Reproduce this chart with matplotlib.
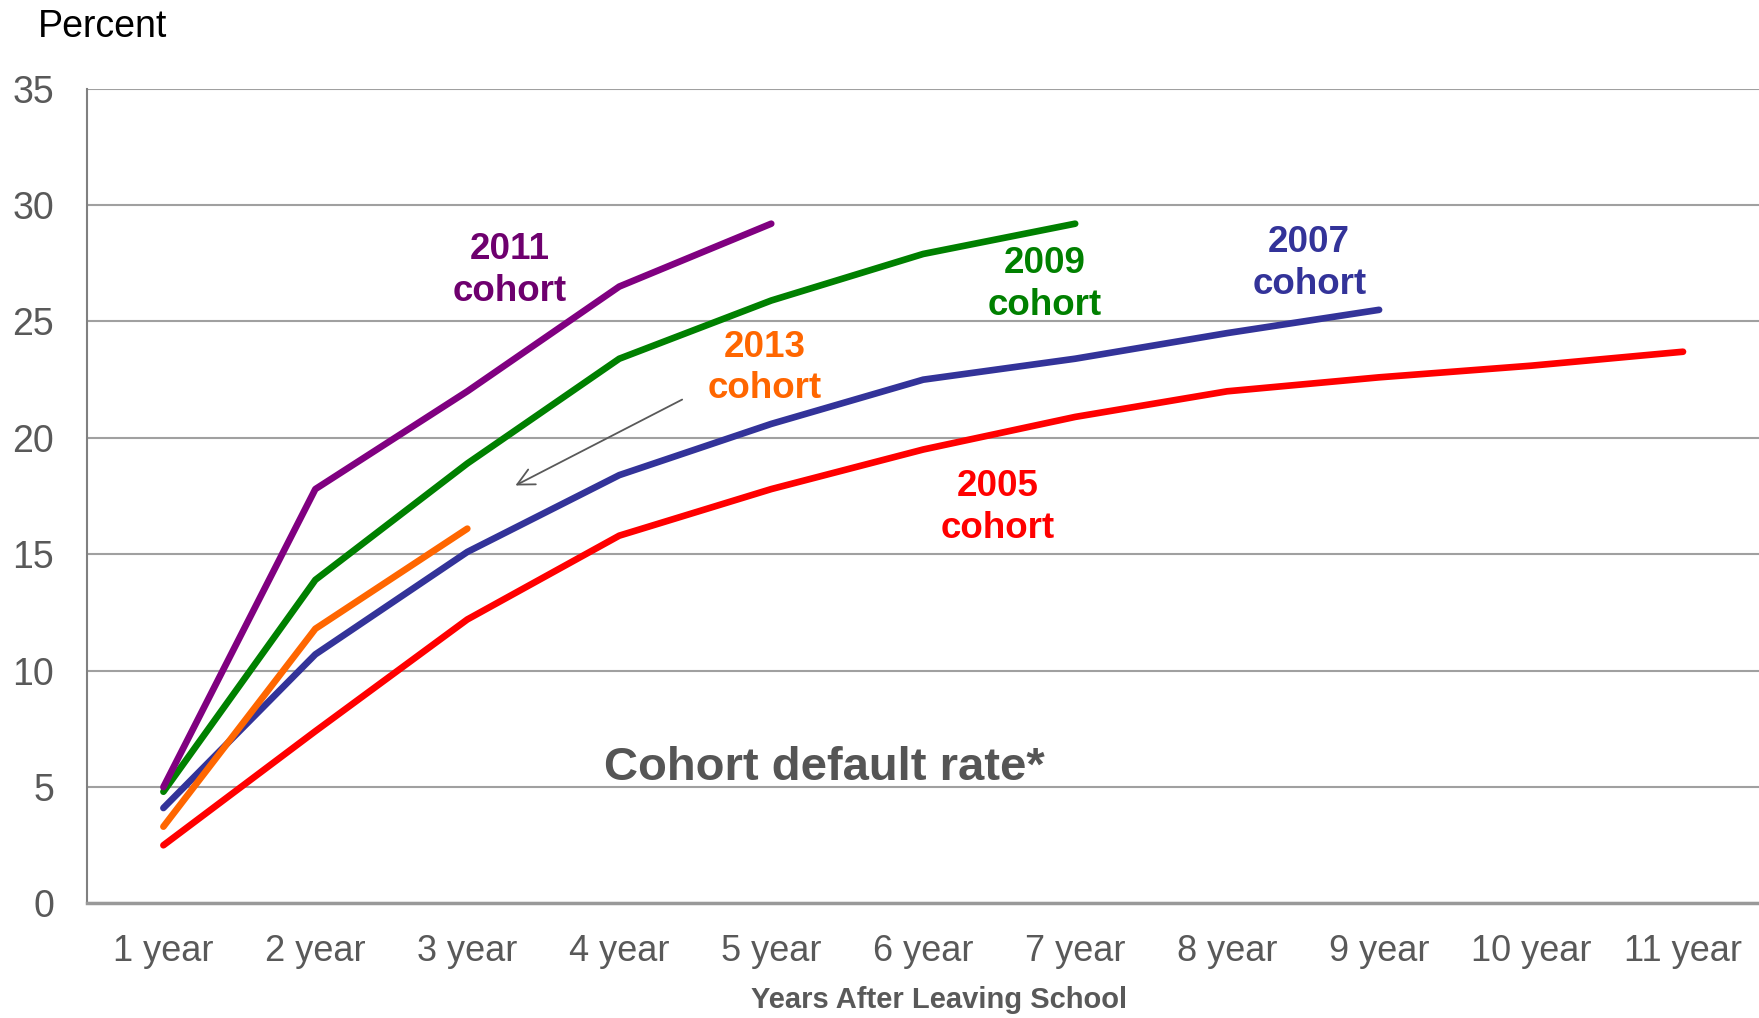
import matplotlib.pyplot as plt

plt.rcParams['font.family'] = ['Liberation Sans', 'DejaVu Sans']

# categories on the x axis
years_after = ['1 year', '2 year', '3 year', '4 year', '5 year', '6 year',
               '7 year', '8 year', '9 year', '10 year', '11 year']

# cohort default rates in percent
rate_2005 = [2.5, 7.4, 12.2, 15.8, 17.8, 19.5, 20.9, 22.0, 22.6, 23.1, 23.7]
rate_2007 = [4.1, 10.7, 15.1, 18.4, 20.6, 22.5, 23.4, 24.5, 25.5]
rate_2009 = [4.8, 13.9, 18.9, 23.4, 25.9, 27.9, 29.2]
rate_2011 = [5.0, 17.8, 22.0, 26.5, 29.2]
rate_2013 = [3.3, 11.8, 16.1]

y_ticks = [0, 5, 10, 15, 20, 25, 30, 35]

fig = plt.figure(figsize=(17.59, 10.18), dpi=100)
ax = fig.add_axes([0.0497, 0.1125, 0.9503, 0.8004])

series = [
    (rate_2005, '#FF0000'),
    (rate_2007, '#333399'),
    (rate_2013, '#FF6600'),
    (rate_2009, '#008000'),
    (rate_2011, '#800080'),
]
for values, col in series:
    xs = list(range(1, len(values) + 1))
    ax.plot(xs, values, color=col, lw=4.8, solid_capstyle='round',
            solid_joinstyle='round', zorder=3)

# cohort labels
labels = [
    (3.28, 27.2, '2011\ncohort', '#6E006E'),
    (6.80, 26.6, '2009\ncohort', '#008000'),
    (4.96, 23.0, '2013\ncohort', '#FF6600'),
    (8.54, 27.5, '2007\ncohort', '#333399'),
    (6.49, 17.0, '2005\ncohort', '#FF0000'),
]
for x, y, s, col in labels:
    ax.text(x, y, s, color=col, fontsize=26.5, fontweight='bold',
            ha='center', va='center', linespacing=1.25)

# arrow pointing at the 2013 line
ax.annotate('', xy=(3.30, 17.9), xytext=(4.43, 21.7),
            arrowprops=dict(arrowstyle='->', color='#595959', lw=1.3,
                            mutation_scale=30))

ax.text(5.35, 5.8, 'Cohort default rate*', color='#555555', fontsize=34,
        fontweight='bold', ha='center', va='center')

ax.set_xlim(0.5, 11.5)
ax.set_ylim(0, 35)
ax.set_xticks(range(1, 12))
ax.set_xticklabels(years_after)
ax.set_yticks(y_ticks)
ax.tick_params(axis='both', length=0, labelcolor='#595959')
ax.tick_params(axis='x', pad=22, labelsize=26)
ax.tick_params(axis='y', pad=24, labelsize=27)
ax.yaxis.grid(True, color='#A0A0A0', lw=1.5)
ax.set_axisbelow(True)

for side in ['top', 'right']:
    ax.spines[side].set_visible(False)
ax.spines['left'].set_color('#808080')
ax.spines['left'].set_linewidth(1.5)
ax.spines['bottom'].set_color('#999999')
ax.spines['bottom'].set_linewidth(2.5)

fig.text(0.5338, 0.018, 'Years After Leaving School', fontsize=21,
         fontweight='bold', color='#595959', ha='center', va='center')
fig.text(0.0217, 0.9636, 'Percent', fontsize=27, ha='left', va='baseline',
         color='black')

fig.savefig('out.png', dpi=100)
